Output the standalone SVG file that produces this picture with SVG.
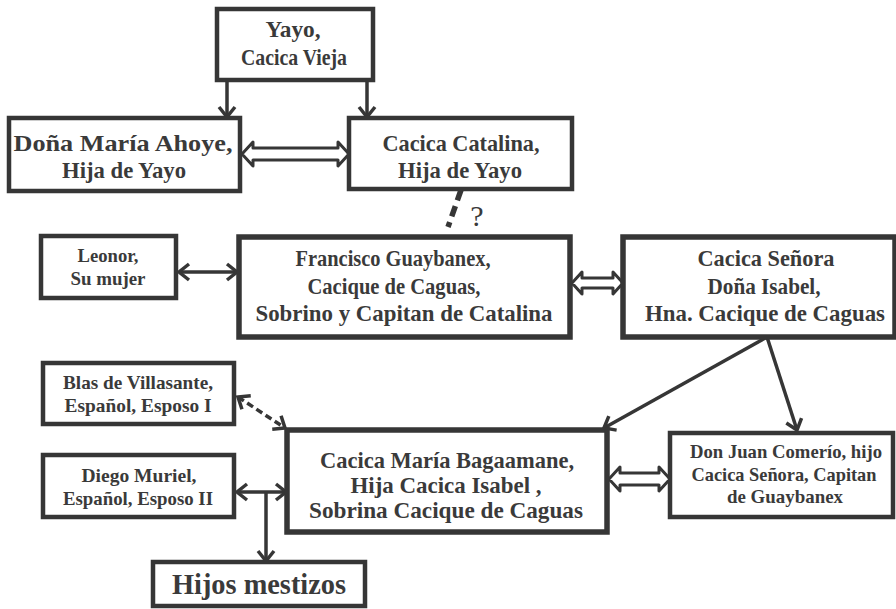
<svg xmlns="http://www.w3.org/2000/svg" width="896" height="609" viewBox="0 0 896 609">
<defs>
<style>
.box{fill:#fff;stroke:#363636;stroke-width:4.5}
.t{font-family:"Liberation Serif","DejaVu Serif",serif;font-weight:bold;fill:#3a3a3a;text-anchor:middle;font-size:24px}
.s{font-size:19px}
.c{fill:none;stroke:#363636;stroke-width:3.5}
.dbl{fill:#fff;stroke:#363636;stroke-width:3;stroke-linejoin:round}
</style>
<marker id="chev" viewBox="0 0 16 20" refX="13" refY="10" markerWidth="16" markerHeight="20" markerUnits="userSpaceOnUse" orient="auto-start-reverse">
<path d="M3,2 L13,10 L3,18" fill="none" stroke="#363636" stroke-width="3.5"/>
</marker>
</defs>
<rect width="896" height="609" fill="#fff"/>

<g id="connectors">
<line class="c" x1="227" y1="80" x2="227" y2="117" marker-end="url(#chev)"/>
<line class="c" x1="367" y1="80" x2="367" y2="117" marker-end="url(#chev)"/>
<path class="dbl" d="M242,154 L253,142 L253,148 L338,148 L338,142 L349,154 L338,166 L338,160 L253,160 L253,166 Z"/>
<line x1="461" y1="190" x2="448" y2="227" stroke="#363636" stroke-width="5.5" stroke-dasharray="11,6"/>
<text x="477" y="226" style="font-family:'Liberation Serif',serif;font-size:30px;fill:#3a3a3a;text-anchor:middle">?</text>
<line class="c" x1="179" y1="272" x2="237" y2="272" marker-start="url(#chev)" marker-end="url(#chev)"/>
<path class="dbl" d="M572,283 L582,272 L582,278 L613,278 L613,272 L623,283 L613,294 L613,288 L582,288 L582,294 Z"/>
<line class="c" x1="767" y1="337" x2="604" y2="428" marker-end="url(#chev)"/>
<line class="c" x1="767" y1="337" x2="797" y2="430" marker-end="url(#chev)"/>
<line class="c" x1="238" y1="397" x2="285" y2="428" stroke-dasharray="7,4" marker-start="url(#chev)" marker-end="url(#chev)"/>
<line class="c" x1="237" y1="492" x2="286" y2="492" marker-start="url(#chev)" marker-end="url(#chev)"/>
<line class="c" x1="266" y1="492" x2="266" y2="561" marker-end="url(#chev)"/>
<path class="dbl" d="M609,479 L620,467 L620,473 L659,473 L659,467 L670,479 L659,491 L659,485 L620,485 L620,491 Z"/>
</g>

<g id="yayo">
<rect class="box" x="217" y="9" width="156" height="71"/>
<text class="t" x="293" y="37" textLength="55" lengthAdjust="spacingAndGlyphs">Yayo,</text>
<text class="t" x="294" y="65" textLength="106" lengthAdjust="spacingAndGlyphs">Cacica Vieja</text>
</g>

<g id="dona-maria">
<rect class="box" x="9" y="118" width="231" height="73"/>
<text class="t" x="123" y="151" textLength="219" lengthAdjust="spacingAndGlyphs">Doña María Ahoye,</text>
<text class="t" x="124" y="178" textLength="124" lengthAdjust="spacingAndGlyphs">Hija de Yayo</text>
</g>

<g id="catalina">
<rect class="box" x="349" y="118" width="223" height="71"/>
<text class="t" x="461" y="151" textLength="157" lengthAdjust="spacingAndGlyphs">Cacica Catalina,</text>
<text class="t" x="460" y="178" textLength="124" lengthAdjust="spacingAndGlyphs">Hija de Yayo</text>
</g>

<g id="leonor">
<rect class="box" x="41" y="236" width="135" height="62"/>
<text class="t s" x="108" y="262" textLength="61" lengthAdjust="spacingAndGlyphs">Leonor,</text>
<text class="t s" x="108" y="285" textLength="75" lengthAdjust="spacingAndGlyphs">Su mujer</text>
</g>

<g id="francisco">
<rect class="box" x="239" y="237" width="331" height="100" style="stroke-width:5.5"/>
<text class="t" x="393" y="266" textLength="195" lengthAdjust="spacingAndGlyphs">Francisco Guaybanex,</text>
<text class="t" x="394" y="294" textLength="173" lengthAdjust="spacingAndGlyphs">Cacique de Caguas,</text>
<text class="t" x="404" y="321" textLength="297" lengthAdjust="spacingAndGlyphs">Sobrino y Capitan de Catalina</text>
</g>

<g id="senora">
<rect class="box" x="623" y="237" width="272" height="100" style="stroke-width:5.5"/>
<text class="t" x="766" y="266" textLength="137" lengthAdjust="spacingAndGlyphs">Cacica Señora</text>
<text class="t" x="764" y="294" textLength="113" lengthAdjust="spacingAndGlyphs">Doña Isabel,</text>
<text class="t" x="765" y="321" textLength="240" lengthAdjust="spacingAndGlyphs">Hna. Cacique de Caguas</text>
</g>

<g id="blas">
<rect class="box" x="43" y="363" width="191" height="61"/>
<text class="t s" x="138" y="389" textLength="150" lengthAdjust="spacingAndGlyphs">Blas de Villasante,</text>
<text class="t s" x="138" y="412" textLength="147" lengthAdjust="spacingAndGlyphs">Español, Esposo I</text>
</g>

<g id="diego">
<rect class="box" x="43" y="455" width="191" height="62"/>
<text class="t s" x="139" y="482" textLength="115" lengthAdjust="spacingAndGlyphs">Diego Muriel,</text>
<text class="t s" x="138" y="505" textLength="150" lengthAdjust="spacingAndGlyphs">Español, Esposo II</text>
</g>

<g id="maria-bagaamane">
<rect class="box" x="287" y="430" width="320" height="102" style="stroke-width:5.5"/>
<text class="t" x="447" y="468" textLength="254" lengthAdjust="spacingAndGlyphs">Cacica María Bagaamane,</text>
<text class="t" x="446" y="493" textLength="191" lengthAdjust="spacingAndGlyphs">Hija Cacica Isabel ,</text>
<text class="t" x="446" y="518" textLength="274" lengthAdjust="spacingAndGlyphs">Sobrina Cacique de Caguas</text>
</g>

<g id="don-juan">
<rect class="box" x="670" y="433" width="223" height="84"/>
<text class="t s" x="786" y="458" textLength="192" lengthAdjust="spacingAndGlyphs">Don Juan Comerío, hijo</text>
<text class="t s" x="784" y="481" textLength="185" lengthAdjust="spacingAndGlyphs">Cacica Señora, Capitan</text>
<text class="t s" x="785" y="503" textLength="116" lengthAdjust="spacingAndGlyphs">de Guaybanex</text>
</g>

<g id="hijos">
<rect class="box" x="153" y="562" width="212" height="44"/>
<text class="t" x="259" y="594" style="font-size:30px" textLength="174" lengthAdjust="spacingAndGlyphs">Hijos mestizos</text>
</g>
</svg>
